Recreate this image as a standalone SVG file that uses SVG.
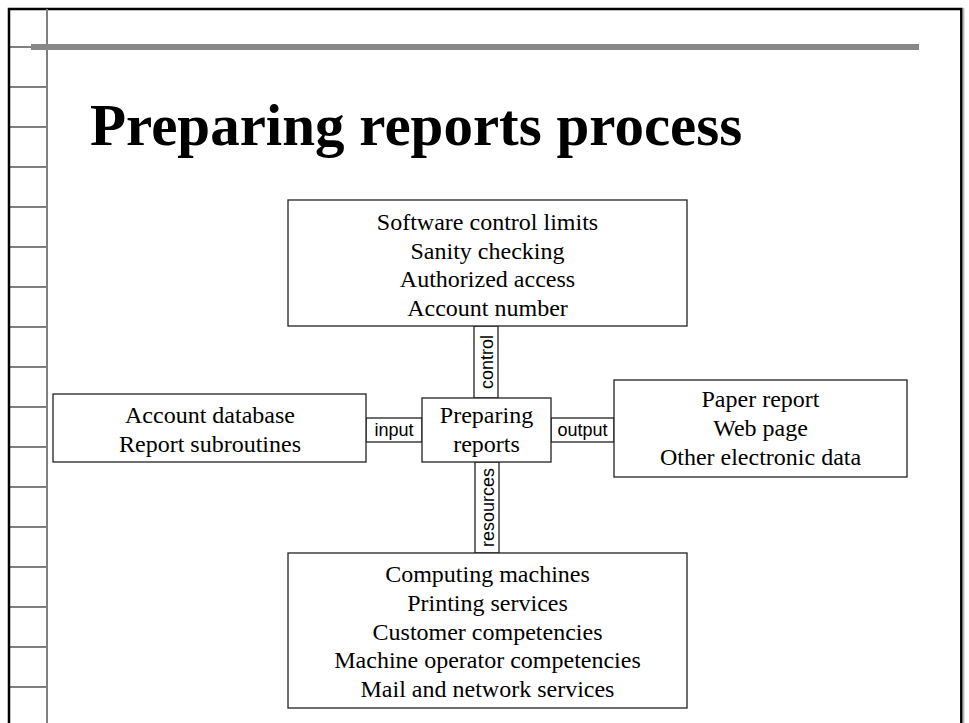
<svg xmlns="http://www.w3.org/2000/svg" width="969" height="723" viewBox="0 0 969 723">
  <style>
    .frame { fill: none; stroke: #000; stroke-width: 2.5; }
    .tick { stroke: #000; stroke-width: 1.2; }
    .box { fill: #fff; stroke: #222; stroke-width: 1.3; }
    .txt { font-family: "Liberation Serif", "Times New Roman", serif; font-size: 24px; fill: #000; text-anchor: middle; }
    .lbl { font-family: "Liberation Sans", Arial, sans-serif; font-size: 18px; fill: #000; text-anchor: middle; }
    .title { font-family: "Liberation Serif", "Times New Roman", serif; font-size: 59px; font-weight: bold; fill: #000; }
  </style>

  <rect width="969" height="723" fill="#fff"/>

  <!-- slide frame -->
  <g id="frame">
    <path class="frame" d="M9,723 V9 H961.3 V723"/>
    <line x1="963.8" y1="8" x2="963.8" y2="723" stroke="#999" stroke-width="1"/>
    <g id="ruler">
      <line x1="8" y1="47" x2="46" y2="47" class="tick"/>
      <line x1="8" y1="87" x2="46" y2="87" class="tick"/>
      <line x1="8" y1="127" x2="46" y2="127" class="tick"/>
      <line x1="8" y1="167" x2="46" y2="167" class="tick"/>
      <line x1="8" y1="207" x2="46" y2="207" class="tick"/>
      <line x1="8" y1="247" x2="46" y2="247" class="tick"/>
      <line x1="8" y1="287" x2="46" y2="287" class="tick"/>
      <line x1="8" y1="327" x2="46" y2="327" class="tick"/>
      <line x1="8" y1="367" x2="46" y2="367" class="tick"/>
      <line x1="8" y1="407" x2="46" y2="407" class="tick"/>
      <line x1="8" y1="447" x2="46" y2="447" class="tick"/>
      <line x1="8" y1="487" x2="46" y2="487" class="tick"/>
      <line x1="8" y1="527" x2="46" y2="527" class="tick"/>
      <line x1="8" y1="567" x2="46" y2="567" class="tick"/>
      <line x1="8" y1="607" x2="46" y2="607" class="tick"/>
      <line x1="8" y1="647" x2="46" y2="647" class="tick"/>
      <line x1="8" y1="687" x2="46" y2="687" class="tick"/>
      <line x1="47" y1="9" x2="47" y2="723" stroke="#808080" stroke-width="2"/>
    </g>
    <rect x="31" y="44" width="888" height="6" fill="#888"/>
  </g>

  <text class="title" x="90" y="145">Preparing reports process</text>

  <!-- labelled links between the process and its surroundings -->
  <g id="connectors">
    <g id="link-control">
      <rect class="box" x="474" y="326" width="24" height="72"/>
      <text class="lbl" transform="translate(493,362) rotate(-90)">control</text>
    </g>
    <g id="link-input">
      <rect class="box" x="366" y="418" width="56" height="24"/>
      <text class="lbl" x="394" y="436">input</text>
    </g>
    <g id="link-output">
      <rect class="box" x="551" y="418" width="63" height="24"/>
      <text class="lbl" x="582.5" y="436">output</text>
    </g>
    <g id="link-resources">
      <rect class="box" x="475" y="462" width="24" height="91"/>
      <text class="lbl" transform="translate(493.5,507.5) rotate(-90)">resources</text>
    </g>
  </g>

  <g id="controls">
    <rect class="box" x="288" y="200" width="399" height="126"/>
    <text class="txt" x="487.5" y="230">Software control limits</text>
    <text class="txt" x="487.5" y="259">Sanity checking</text>
    <text class="txt" x="487.5" y="287">Authorized access</text>
    <text class="txt" x="487.5" y="316">Account number</text>
  </g>

  <g id="inputs">
    <rect class="box" x="53" y="394" width="313" height="68"/>
    <text class="txt" x="210" y="423">Account database</text>
    <text class="txt" x="210" y="452">Report subroutines</text>
  </g>

  <g id="process">
    <rect class="box" x="422" y="398" width="129" height="64"/>
    <text class="txt" x="486.5" y="423">Preparing</text>
    <text class="txt" x="486.5" y="452">reports</text>
  </g>

  <g id="outputs">
    <rect class="box" x="614" y="380" width="293" height="97"/>
    <text class="txt" x="760.5" y="407">Paper report</text>
    <text class="txt" x="760.5" y="436">Web page</text>
    <text class="txt" x="760.5" y="465">Other electronic data</text>
  </g>

  <g id="resources">
    <rect class="box" x="288" y="553" width="399" height="155"/>
    <text class="txt" x="487.5" y="582">Computing machines</text>
    <text class="txt" x="487.5" y="611">Printing services</text>
    <text class="txt" x="487.5" y="640">Customer competencies</text>
    <text class="txt" x="487.5" y="668">Machine operator competencies</text>
    <text class="txt" x="487.5" y="697">Mail and network services</text>
  </g>
</svg>
